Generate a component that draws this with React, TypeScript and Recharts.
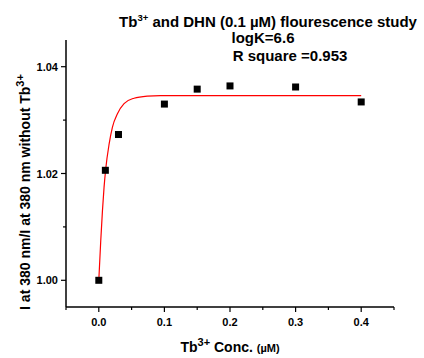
import React from 'react';
import { ScatterChart, Scatter, XAxis, YAxis } from 'recharts';

const concX = [0, 0.01, 0.03, 0.1, 0.15, 0.2, 0.3, 0.4];
const ratioY = [1.0, 1.0206, 1.0273, 1.033, 1.0358, 1.0364, 1.0362, 1.0334];

const fitX = [0, 0.003, 0.0056, 0.008, 0.0106, 0.0157, 0.0208, 0.0284, 0.0385, 0.0537, 0.074, 0.094, 0.15, 0.25, 0.4];
const fitY = [1.0, 1.0075, 1.0131, 1.0174, 1.0209, 1.0255, 1.0287, 1.0312, 1.0331, 1.0341, 1.0345, 1.0346, 1.0346, 1.0346, 1.0346];

const xTicks = [-0.05, 0, 0.05, 0.1, 0.15, 0.2, 0.25, 0.3, 0.35, 0.4, 0.45];
const xMajor = ['0.0', '0.1', '0.2', '0.3', '0.4'];
const yTicks = [1.0, 1.01, 1.02, 1.03, 1.04];
const yMajor = ['1.00', '1.02', '1.04'];

const points = concX.map((x, i) => ({ x, y: ratioY[i] }));
const fit = fitX.map((x, i) => ({ x, y: fitY[i] }));

const FONT = '"Liberation Sans", Arial, sans-serif';

const XTick = (props: any) => {
  const { x, y, payload } = props;
  const label = payload.value.toFixed(1);
  const major = xMajor.includes(label) && Math.abs(payload.value * 10 - Math.round(payload.value * 10)) < 1e-6;
  return (
    <g>
      <line x1={x} x2={x} y1={y} y2={y + (major ? 5 : 3)} stroke="#000" strokeWidth={1.2} />
      {major && (
        <text x={x} y={y + 19} textAnchor="middle" fontFamily={FONT} fontWeight="bold" fontSize={11} fill="#000">
          {label}
        </text>
      )}
    </g>
  );
};

const YTick = (props: any) => {
  const { x, y, payload } = props;
  const label = payload.value.toFixed(2);
  const major = yMajor.includes(label);
  return (
    <g>
      <line x1={x} x2={x - (major ? 5 : 3)} y1={y} y2={y} stroke="#000" strokeWidth={1.2} />
      {major && (
        <text x={x - 8} y={y + 4} textAnchor="end" fontFamily={FONT} fontWeight="bold" fontSize={11} fill="#000">
          {label}
        </text>
      )}
    </g>
  );
};

const Square = (props: any) => {
  const { cx, cy } = props;
  if (cx == null || cy == null) return <g />;
  return <rect x={cx - 3.5} y={cy - 3.5} width={7} height={7} fill="#000" />;
};

const NoShape = () => <g />;

export default function App() {
  return (
    <div style={{ position: 'absolute', left: 0, top: 0, width: 424, height: 358, background: '#fff' }}>
      <ScatterChart width={424} height={358} margin={{ top: 40, right: 30, bottom: 21, left: 16 }}>
        <XAxis
          type="number"
          dataKey="x"
          domain={[-0.05, 0.45]}
          ticks={xTicks}
          interval={0}
          tickSize={0}
          tickMargin={0}
          tickLine={false}
          tick={<XTick />}
          axisLine={{ stroke: '#000', strokeWidth: 1.5 }}
          height={30}
          allowDataOverflow
        />
        <YAxis
          type="number"
          dataKey="y"
          domain={[0.995, 1.045]}
          ticks={yTicks}
          interval={0}
          tickSize={0}
          tickMargin={0}
          tickLine={false}
          tick={<YTick />}
          axisLine={{ stroke: '#000', strokeWidth: 1.5 }}
          width={50}
          allowDataOverflow
        />
        <Scatter
          data={fit}
          line={{ stroke: '#ff0000', strokeWidth: 1.2 }}
          lineJointType="monotoneX"
          shape={<NoShape />}
          isAnimationActive={false}
        />
        <Scatter data={points} shape={<Square />} fill="#000" isAnimationActive={false} />
        <text x={268} y={27} textAnchor="middle" fontFamily={FONT} fontWeight="bold" fontSize={15} fill="#000">
          Tb<tspan dy={-6} fontSize={9.5}>3+</tspan>
          <tspan dy={6}> and DHN (0.1 µM) flourescence study</tspan>
        </text>
        <text x={263} y={43} textAnchor="middle" fontFamily={FONT} fontWeight="bold" fontSize={15} fill="#000">
          logK=6.6
        </text>
        <text x={290} y={61} textAnchor="middle" fontFamily={FONT} fontWeight="bold" fontSize={15} fill="#000">
          R square =0.953
        </text>
        <text x={230} y={352} textAnchor="middle" fontFamily={FONT} fontWeight="bold" fontSize={14} fill="#000">
          Tb<tspan dy={-6} fontSize={11}>3+</tspan>
          <tspan dy={6}> Conc. </tspan>
          <tspan fontSize={11}>(µM)</tspan>
        </text>
        <text
          transform="translate(30,192) rotate(-90)"
          textAnchor="middle"
          fontFamily={FONT}
          fontWeight="bold"
          fontSize={14}
          fill="#000"
        >
          I at 380 nm/I at 380 nm without Tb<tspan dy={-6} fontSize={11}>3+</tspan>
        </text>
      </ScatterChart>
    </div>
  );
}
